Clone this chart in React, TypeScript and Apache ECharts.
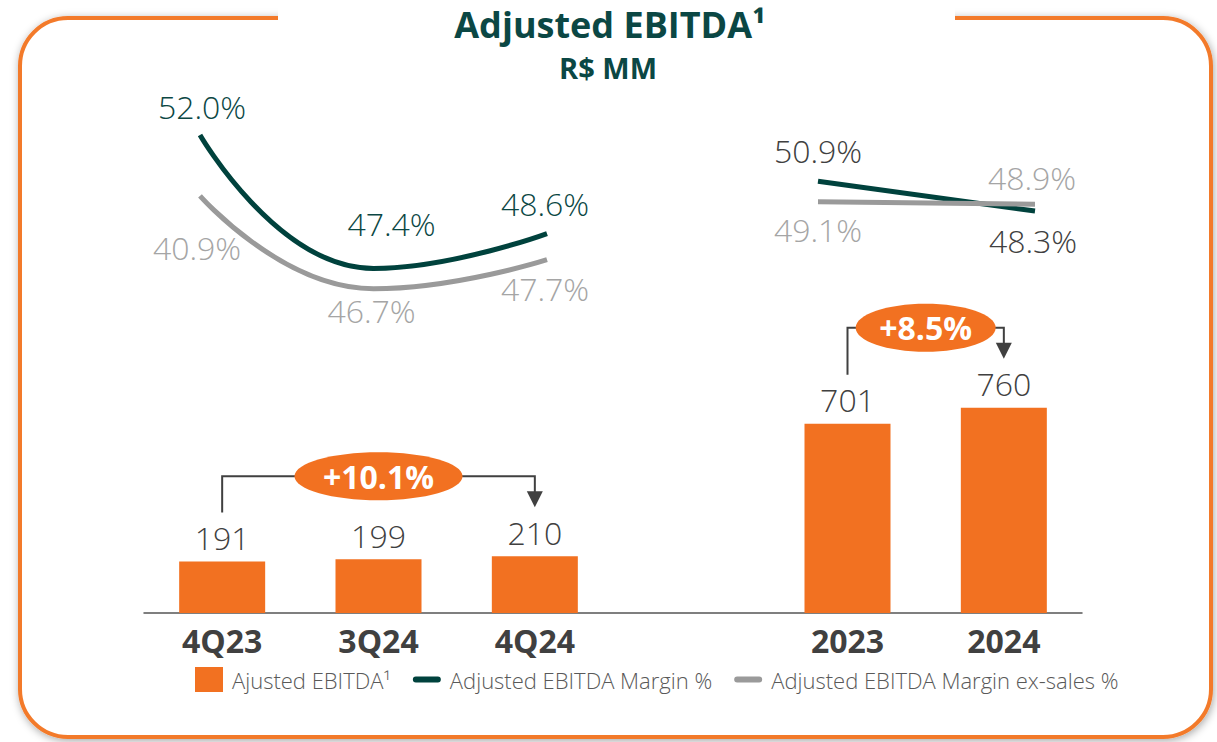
import React, { useEffect, useRef } from "react";
import * as echarts from "echarts";

// ---- data ----
const categories = ["4Q23", "3Q24", "4Q24", "", "2023", "2024"];
const ebitda = [191, 199, 210, null, 701, 760];

const quarterCats = ["4Q23", "3Q24", "4Q24"];
const marginQ = [52.0, 47.4, 48.6];
// plotted position of the ex-sales line (first label printed as 40.9% in the source)
const marginExQ = [49.9, 46.7, 47.7];
const marginExQLabels = ["40.9%", "46.7%", "47.7%"];

const yearCats = ["2023", "2024"];
const marginY = [50.9, 48.3];
const marginExY = [49.1, 48.9];

const growthLabels = ["+10.1%", "+8.5%"];
const growthPairs = [
  [0, 2],
  [4, 5],
];

const titleText = "Adjusted EBITDA¹";
const subtitleText = "R$ MM";

const seriesNames = [
  "Ajusted EBITDA¹",
  "Adjusted EBITDA Margin %",
  "Adjusted EBITDA Margin ex-sales %",
];

// ---- styles ----
const ORANGE = "#F27121";
const TEAL = "#00423D";
const TEAL_TXT = "#0B4744";
const GREY = "#9A9A9A";
const GREY_TXT = "#A5A5A5";
const DARK_TXT = "#404040";
const FONT = "'Open Sans', 'Noto Sans', sans-serif";

const labelFont = { fontFamily: FONT, fontSize: 32, fontWeight: 300 as any };

function pts(values: number[], offsets: number[][], color: string, texts?: string[]) {
  return values.map((v, i) => ({
    value: v,
    label: {
      show: true,
      position: "inside",
      offset: offsets[i],
      color,
      ...labelFont,
      formatter: texts ? texts[i] : (p: any) => p.value.toFixed(1) + "%",
    },
  }));
}

export default function App() {
  const ref = useRef<HTMLDivElement>(null);
  useEffect(() => {
    if (!ref.current) return;
    const chart = echarts.init(ref.current, null, { renderer: "svg" });
    const lineBase = {
      type: "line",
      smooth: 0.5,
      symbol: "circle",
      symbolSize: 0,
      showSymbol: true,
      z: 3,
    };
    chart.setOption({
      animation: false,
      backgroundColor: "#ffffff",
      legend: {
        left: 190,
        top: 662,
        itemWidth: 28,
        itemHeight: 25,
        itemGap: 22,
        textStyle: { fontFamily: FONT, fontSize: 22, fontWeight: 300, color: "#595959", padding: [0, 0, 0, 4] },
        data: [
          { name: seriesNames[0], icon: "rect", itemStyle: { color: ORANGE } },
          {
            name: seriesNames[1],
            icon: "path://M3,0 H25 A3,3 0 0 1 25,6 H3 A3,3 0 0 1 3,0 Z",
            itemStyle: { color: TEAL },
          },
          {
            name: seriesNames[2],
            icon: "path://M3,0 H25 A3,3 0 0 1 25,6 H3 A3,3 0 0 1 3,0 Z",
            itemStyle: { color: GREY },
          },
        ],
      },
      grid: [
        { left: 144, right: 135, top: 73, bottom: 129 },
        { left: 200, width: 347, top: 77, height: 290 },
        { left: 818, width: 217, top: 134, height: 115 },
      ],
      xAxis: [
        {
          type: "category",
          gridIndex: 0,
          data: categories,
          axisLine: { lineStyle: { color: "#555555", width: 1.5 } },
          axisTick: { show: false },
          axisLabel: {
            margin: 11,
            fontFamily: FONT,
            fontSize: 32,
            fontWeight: "bold",
            color: DARK_TXT,
          },
        },
        { type: "category", gridIndex: 1, data: quarterCats, boundaryGap: false, show: false },
        { type: "category", gridIndex: 2, data: yearCats, boundaryGap: false, show: false },
      ],
      yAxis: [
        { type: "value", gridIndex: 0, min: 0, max: 2000, show: false },
        { type: "value", gridIndex: 1, min: 44, max: 54, show: false },
        { type: "value", gridIndex: 2, min: 45, max: 55, show: false },
      ],
      series: [
        {
          name: seriesNames[0],
          type: "bar",
          xAxisIndex: 0,
          yAxisIndex: 0,
          data: ebitda,
          barWidth: 86,
          itemStyle: { color: ORANGE },
          label: {
            show: true,
            position: "top",
            distance: 8,
            color: DARK_TXT,
            ...labelFont,
          },
        },
        {
          ...lineBase,
          name: seriesNames[1],
          xAxisIndex: 1,
          yAxisIndex: 1,
          lineStyle: { color: TEAL, width: 5 },
          itemStyle: { color: TEAL },
          data: pts(marginQ, [[2, -29], [18, -45], [-2, -30]], TEAL_TXT),
        },
        {
          ...lineBase,
          name: seriesNames[2],
          xAxisIndex: 1,
          yAxisIndex: 1,
          lineStyle: { color: GREY, width: 5 },
          itemStyle: { color: GREY },
          data: pts(marginExQ, [[-3, 52], [-2, 22], [-2, 29]], GREY_TXT, marginExQLabels),
        },
        {
          ...lineBase,
          name: seriesNames[1],
          xAxisIndex: 2,
          yAxisIndex: 2,
          smooth: false,
          lineStyle: { color: TEAL, width: 5 },
          itemStyle: { color: TEAL },
          data: pts(marginY, [[0, -31], [-2, 29]], DARK_TXT),
        },
        {
          ...lineBase,
          name: seriesNames[2],
          xAxisIndex: 2,
          yAxisIndex: 2,
          smooth: false,
          lineStyle: { color: GREY, width: 5 },
          itemStyle: { color: GREY },
          data: pts(marginExY, [[0, 28], [-3, -27]], GREY_TXT),
        },
      ],
    });

    // decorations computed from the bar scale
    const graphics: any[] = [
      {
        type: "rect",
        z: -10,
        shape: { x: 20, y: 18, width: 1191, height: 719, r: 48 },
        style: {
          fill: "#ffffff",
          stroke: "#F37A29",
          lineWidth: 4,
          shadowBlur: 8,
          shadowColor: "rgba(0,0,0,0.35)",
          shadowOffsetX: 1,
          shadowOffsetY: 2,
        },
      },
      {
        type: "rect",
        z: -9,
        shape: { x: 278, y: 8, width: 677, height: 20 },
        style: { fill: "#ffffff" },
      },
      {
        type: "text",
        z: 10,
        x: 610,
        y: 24,
        style: {
          text: titleText,
          fill: TEAL_TXT,
          font: `bold 36px ${FONT}`,
          align: "center",
          verticalAlign: "middle",
        },
      },
      {
        type: "text",
        z: 10,
        x: 608,
        y: 67,
        style: {
          text: subtitleText,
          fill: TEAL_TXT,
          font: `bold 29px ${FONT}`,
          align: "center",
          verticalAlign: "middle",
        },
      },
    ];
    growthPairs.forEach(([a, b], k) => {
      const pa = chart.convertToPixel({ xAxisIndex: 0, yAxisIndex: 0 }, [a, ebitda[a] as number]) as number[];
      const pb = chart.convertToPixel({ xAxisIndex: 0, yAxisIndex: 0 }, [b, ebitda[b] as number]) as number[];
      const yh = Math.min(pa[1], pb[1]) - 80;
      const tip = pb[1] - 49;
      const cx = (pa[0] + pb[0]) / 2;
      const rx = 14 * growthLabels[k].length;
      graphics.push(
        {
          type: "polyline",
          z: 5,
          shape: { points: [[pa[0], pa[1] - 49], [pa[0], yh], [pb[0], yh], [pb[0], tip - 14]] },
          style: { stroke: "#404040", lineWidth: 2, fill: null },
        },
        {
          type: "polygon",
          z: 5,
          shape: { points: [[pb[0] - 8, tip - 16], [pb[0] + 8, tip - 16], [pb[0], tip]] },
          style: { fill: "#404040" },
        },
        {
          type: "ellipse",
          z: 6,
          shape: { cx, cy: yh, rx, ry: 24 },
          style: { fill: ORANGE },
        },
        {
          type: "text",
          z: 7,
          x: cx,
          y: yh,
          style: {
            text: growthLabels[k],
            fill: "#ffffff",
            font: `bold 32px ${FONT}`,
            align: "center",
            verticalAlign: "middle",
          },
        }
      );
    });
    chart.setOption({ graphic: graphics });
    return () => chart.dispose();
  }, []);
  return (
    <div
      ref={ref}
      style={{ position: "fixed", left: 0, top: 0, width: 1217, height: 742 }}
    />
  );
}
